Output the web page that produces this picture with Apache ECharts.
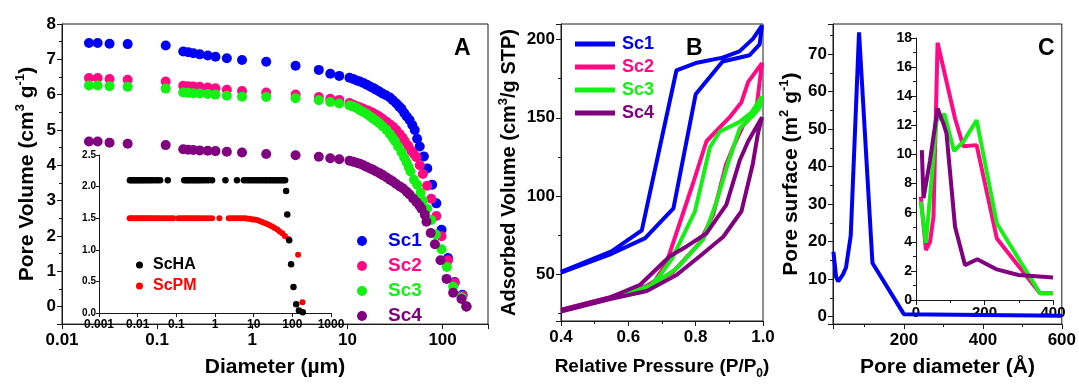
<!DOCTYPE html>
<html>
<head>
<meta charset="utf-8">
<script src="https://cdn.jsdelivr.net/npm/echarts@6/dist/echarts.min.js"></script>
<style>html,body{margin:0;padding:0;background:#fff}#c{width:1079px;height:385px}</style>
</head>
<body>
<div id="c"></div>
<script>
// ---------- Panel A: cumulative pore volume (diameter µm, cm3/g) ----------
const sc1Pore = [[0.0192,7.46],[0.0237,7.46],[0.0316,7.44],[0.049,7.43],[0.123,7.39],[0.188,7.22],[0.212,7.20],[0.24,7.17],[0.28,7.14],[0.34,7.11],[0.41,7.07],[0.54,7.03],[0.78,6.98],[1.4,6.93],[2.85,6.82],[5.0,6.70],[6.6,6.59],[8.2,6.53],[10.5,6.48],[11.5,6.44],[12.5,6.40],[13.5,6.37],[14.7,6.33],[16,6.28],[17.3,6.23],[18.6,6.19],[20,6.14],[21.6,6.09],[23.3,6.03],[25.4,5.98],[27.9,5.92],[30,5.84],[32.7,5.75],[35,5.66],[37,5.60],[39.5,5.48],[42,5.38],[45,5.28],[48,5.14],[51,5.00],[54,4.75],[57.5,4.53],[63.5,4.25],[69,3.91],[77.6,3.45],[86,2.92],[97.5,2.17],[114,1.37],[134,0.69],[162,0.33],[178,0.0]];
const sc2Pore = [[0.0192,6.47],[0.0237,6.47],[0.0316,6.44],[0.049,6.42],[0.123,6.37],[0.188,6.25],[0.212,6.24],[0.24,6.23],[0.28,6.22],[0.34,6.20],[0.41,6.18],[0.54,6.14],[0.78,6.10],[1.4,6.06],[2.85,6.00],[5.0,5.93],[6.6,5.88],[8.2,5.85],[10.5,5.76],[11.5,5.71],[12.5,5.67],[13.5,5.64],[14.7,5.60],[16,5.56],[17.3,5.52],[18.6,5.48],[20,5.43],[21.6,5.38],[23.5,5.31],[25.8,5.23],[28,5.15],[30.3,5.08],[32.8,4.99],[35.5,4.88],[38,4.78],[40,4.68],[43.5,4.55],[47,4.41],[50,4.32],[53,4.23],[57.5,4.00],[62,3.75],[68.7,3.42],[76,3.05],[86,2.56],[97.5,1.99],[114,1.31],[134,0.67],[162,0.30],[178,0.0]];
const sc3Pore = [[0.0192,6.26],[0.0237,6.26],[0.0316,6.24],[0.049,6.22],[0.123,6.17],[0.188,6.06],[0.212,6.05],[0.24,6.04],[0.28,6.03],[0.34,6.02],[0.41,6.00],[0.54,5.97],[0.78,5.94],[1.4,5.93],[2.85,5.90],[5.0,5.84],[6.6,5.79],[8.2,5.75],[10.5,5.69],[11.5,5.66],[12.5,5.62],[13.5,5.56],[14.7,5.51],[16,5.45],[17.3,5.38],[18.6,5.32],[20,5.26],[21.6,5.19],[23.5,5.10],[25.8,5.00],[28,4.88],[30,4.77],[31.7,4.68],[34,4.53],[37,4.37],[39.5,4.22],[41.7,4.09],[44,3.95],[46,3.82],[50,3.59],[54,3.45],[58.6,3.22],[62,3.00],[68.7,2.77],[76,2.45],[85,2.04],[97.5,1.62],[111,1.12],[129,0.56],[158,0.26],[178,0.0]];
const sc4Pore = [[0.0192,4.67],[0.0237,4.67],[0.0316,4.64],[0.049,4.61],[0.123,4.57],[0.188,4.45],[0.212,4.44],[0.24,4.43],[0.28,4.42],[0.34,4.41],[0.41,4.40],[0.54,4.38],[0.78,4.36],[1.4,4.32],[2.85,4.28],[5.0,4.24],[6.6,4.20],[8.2,4.17],[10.5,4.13],[11.5,4.10],[12.5,4.07],[13.5,4.04],[14.7,4.00],[15.8,3.96],[17.3,3.91],[18.6,3.87],[20,3.82],[21.9,3.77],[23.5,3.72],[25.8,3.65],[28,3.59],[30,3.54],[32.5,3.47],[35.5,3.40],[38.5,3.34],[42,3.25],[45,3.17],[49,3.06],[53,2.96],[57,2.86],[60,2.77],[65,2.60],[67.7,2.40],[75,2.08],[83,1.76],[95,1.31],[110,0.78],[129,0.39],[158,0.21],[178,0.0]];

// Inset of panel A
const schaPore = [[0.0063,2.1],[0.0069,2.1],[0.0076,2.1],[0.0084,2.1],[0.0093,2.1],[0.0103,2.1],[0.0114,2.1],[0.0126,2.1],[0.014,2.1],[0.0156,2.1],[0.0174,2.1],[0.0195,2.1],[0.022,2.1],[0.025,2.1],[0.029,2.1],[0.033,2.1],[0.038,2.1],[0.06,2.1],[0.16,2.1],[0.18,2.1],[0.2,2.1],[0.22,2.1],[0.25,2.1],[0.28,2.1],[0.31,2.1],[0.35,2.1],[0.39,2.1],[0.44,2.1],[0.5,2.1],[0.58,2.1],[0.68,2.1],[0.84,2.1],[1.86,2.1],[3.7,2.1],[5.6,2.1],[6.5,2.1],[7.5,2.1],[8.7,2.1],[10,2.1],[11.5,2.1],[13,2.1],[15,2.1],[17,2.1],[19.5,2.1],[22,2.1],[25,2.1],[28,2.1],[32,2.1],[36,2.1],[41,2.1],[46,2.1],[52,2.1],[58,2.1],[65,2.1],[69,1.93],[74,1.56],[83,1.15],[93,0.77],[107,0.41],[126,0.14],[148,0.04],[186,0.01]];
const scpmPore = [[0.0062,1.5],[0.0068,1.5],[0.0075,1.5],[0.0083,1.5],[0.0092,1.5],[0.0102,1.5],[0.0113,1.5],[0.0125,1.5],[0.0139,1.5],[0.0155,1.5],[0.0173,1.5],[0.0193,1.5],[0.0216,1.5],[0.024,1.5],[0.027,1.5],[0.031,1.5],[0.035,1.5],[0.04,1.5],[0.046,1.5],[0.053,1.5],[0.062,1.5],[0.072,1.5],[0.083,1.5],[0.113,1.5],[0.13,1.5],[0.15,1.5],[0.17,1.5],[0.19,1.5],[0.22,1.5],[0.25,1.5],[0.29,1.5],[0.33,1.5],[0.38,1.5],[0.44,1.5],[0.51,1.5],[0.6,1.5],[0.7,1.5],[0.84,1.5],[1.3,1.5],[2.26,1.5],[2.6,1.5],[3.0,1.5],[3.5,1.5],[4.0,1.5],[4.6,1.5],[5.3,1.5],[6.1,1.5],[7.0,1.49],[8.0,1.49],[9.2,1.48],[10.5,1.48],[12.3,1.47],[14.3,1.455],[16.5,1.44],[19.2,1.425],[22.3,1.41],[26,1.39],[30,1.37],[35,1.345],[41,1.32],[47,1.29],[55,1.26],[64,1.22],[79,1.17],[141,0.92],[183,0.17]];

// ---------- Panel B: N2 isotherms (P/P0, cm3/g STP), adsorption then desorption ----------
const sc1Iso = [[0.4,51],[0.55,63],[0.65,73],[0.734,92],[0.80,165],[0.88,186],[0.96,190],[0.99,197],[0.997,209],[0.97,200.5],[0.93,192.5],[0.88,188.5],[0.80,185],[0.743,180.4],[0.64,78],[0.55,64.5],[0.4,51.5]];
const sc2Iso = [[0.4,27],[0.546,35],[0.655,42.2],[0.733,51.4],[0.812,70],[0.852,88],[0.89,120],[0.911,131],[0.941,145],[0.98,155],[0.997,185],[0.956,173],[0.936,160],[0.901,150.4],[0.832,135],[0.793,108.6],[0.714,57.6],[0.68,46],[0.655,42.5],[0.546,35.3],[0.4,27.2]];
const sc3Iso = [[0.4,26.5],[0.546,34.5],[0.664,42.2],[0.743,53.5],[0.822,72],[0.862,96.4],[0.896,120.8],[0.931,143.3],[0.97,151.4],[0.99,156.5],[0.997,163.7],[0.966,153.5],[0.931,147.4],[0.872,141.2],[0.842,131],[0.818,108.6],[0.798,90.2],[0.729,59.6],[0.69,48],[0.664,42.4],[0.546,34.7],[0.4,26.7]];
const sc4Iso = [[0.4,26],[0.546,34],[0.655,39.2],[0.743,49.4],[0.813,61.6],[0.882,73.9],[0.936,90.2],[0.97,120.8],[0.985,140],[0.997,150.4],[0.956,135],[0.931,122.8],[0.891,94.3],[0.832,76],[0.773,67.7],[0.724,61.6],[0.635,43.2],[0.546,35.1],[0.4,27]];

// ---------- Panel C: pore surface distribution (Å, m2/g) ----------
const sc1Surf = [[21,17.3],[28,10.5],[33,9.4],[45,11.2],[53,13.1],[65,21.6],[86,75.8],[120,14.3],[200,0.6],[600,0.2]];
const sc2Surf = [[14,7.1],[18,7.0],[29,3.43],[41,4.0],[51,5.72],[63,17.67],[114,12.47],[138,10.57],[177,10.64],[236,4.23],[362,0.46],[400,0.46]];
const sc3Surf = [[14,6.75],[29,3.93],[46,8.46],[60,12.35],[83,12.77],[111,10.23],[138,10.87],[177,12.35],[236,5.26],[362,0.46],[400,0.46]];
const sc4Surf = [[17,10.3],[22,7.0],[41,9.6],[63,13.15],[80,12.13],[89,11.44],[114,5.03],[143,2.4],[179,2.8],[236,2.1],[299,1.72],[400,1.55]];

const names = ['Sc1','Sc2','Sc3','Sc4'];
const colors = ['#0000F5','#FF0A84','#14F014','#800080'];
const panelLetters = ['A','B','C'];

const FF = '"Liberation Sans", Arial, Helvetica, sans-serif';
const AX = '#1a1a1a';

function isPow10(v){ const l = Math.log10(v); return Math.abs(l - Math.round(l)) < 1e-6; }
function logFmt(v){ return isPow10(v) ? String(+v.toPrecision(6)) : ''; }

function valAxis(o){
  const base = {
    type:'value', gridIndex:o.g, min:o.min, max:o.max,
    splitLine:{show:false},
    axisLine:{show:true, onZero:false, lineStyle:{color:AX, width:1}},
    axisTick:{show:true, inside:false, length:5, lineStyle:{color:AX}},
    axisLabel:{fontFamily:FF, fontWeight:'bold', fontSize:o.fs||17, color:'#000', margin:o.margin||6, formatter:o.fmt},
  };
  if (o.interval) base.interval = o.interval;
  if (o.split) base.splitNumber = o.split;
  if (o.minor) base.minorTick = {show:true, splitNumber:o.minor, length:3, lineStyle:{color:AX}};
  return Object.assign(base, o.extra||{});
}

const supStyle = {fontFamily:FF, fontWeight:'bold', fontSize:13, color:'#000', verticalAlign:'top', lineHeight:26};
const subStyle = {fontFamily:FF, fontWeight:'bold', fontSize:12, color:'#000', verticalAlign:'bottom', lineHeight:26, padding:[0,0,0,0]};
function nameStyle(fs){ return {fontFamily:FF, fontWeight:'bold', fontSize:fs, color:'#000', lineHeight:26, rich:{sup:supStyle, sub:subStyle, t:{fontFamily:FF, fontWeight:'bold', fontSize:fs, color:'#000', lineHeight:26}}}; }

const grids = [
  {left:62, top:24, width:426, height:310, show:true, borderColor:AX, borderWidth:1},   // A
  {left:99, top:155, width:232, height:158, show:false},                               // A inset
  {left:561, top:24, width:202, height:311, show:true, borderColor:AX, borderWidth:1}, // B
  {left:833, top:24, width:233, height:311, show:true, borderColor:AX, borderWidth:1}, // C
  {left:916, top:38, width:137, height:262, show:false}                                // C inset
];

const xAxes = [
  {type:'log', logBase:10, gridIndex:0, min:0.01, max:300, splitLine:{show:false},
   axisLine:{show:true, onZero:false, lineStyle:{color:AX}}, axisTick:{length:5, lineStyle:{color:AX}},
   axisLabel:{fontFamily:FF, fontWeight:'bold', fontSize:17, color:'#000', margin:8, formatter:logFmt},
   name:'{t|Diameter (µm)}', nameLocation:'middle', nameGap:29, nameTextStyle:nameStyle(21)},
  {type:'log', logBase:10, gridIndex:1, min:0.001, max:1000, splitLine:{show:false},
   axisLine:{show:true, onZero:false, lineStyle:{color:AX}}, axisTick:{length:4, lineStyle:{color:AX}},
   axisLabel:{fontFamily:FF, fontWeight:'bold', fontSize:12, color:'#000', margin:6, formatter:logFmt}},
  valAxis({g:2, min:0.4, max:1.0, interval:0.2, minor:2, fmt:v=>v.toFixed(1), margin:8,
   extra:{name:'{t|Relative Pressure (P/P}{sub|0}{t|)}', nameLocation:'middle', nameGap:33, nameTextStyle:nameStyle(19)}}),
  valAxis({g:3, min:20, max:600, split:3, minor:2, fmt:v=>(v%200===0 && v>0)?String(v):'', margin:8,
   extra:{name:'{t|Pore diameter (Å)}', nameLocation:'middle', nameGap:26, nameTextStyle:nameStyle(21)}}),
  valAxis({g:4, min:0, max:400, interval:200, minor:2, fs:15, fmt:v=>String(v), margin:5})
];

const yAxes = [
  valAxis({g:0, min:-0.5, max:8, split:8, minor:2, fmt:v=>Number.isInteger(v)?String(v):'', margin:6,
   extra:{name:'{t|Pore Volume (cm}{sup|3}{t| g}{sup|-1}{t|)}', nameLocation:'middle', nameRotate:90, nameGap:22, nameTextStyle:nameStyle(21)}}),
  valAxis({g:1, min:0, max:2.5, interval:0.5, fs:10, fmt:v=>v.toFixed(1), margin:3, extra:{axisTick:{length:3, lineStyle:{color:AX}}}}),
  valAxis({g:2, min:20, max:210, split:4, minor:2, fmt:v=>(v%50===0)?String(v):'', margin:6,
   extra:{name:'{t|Adsorbed Volume (cm}{sup|3}{t|/g STP)}', nameLocation:'middle', nameRotate:90, nameGap:36, nameTextStyle:nameStyle(20)}}),
  valAxis({g:3, min:-2, max:78, split:8, minor:2, fmt:v=>(v%10===0)?String(v):'', margin:6,
   extra:{name:'{t|Pore surface (m}{sup|2}{t| g}{sup|-1}{t|)}', nameLocation:'middle', nameRotate:90, nameGap:28, nameTextStyle:nameStyle(21)}}),
  valAxis({g:4, min:0, max:18, interval:2, minor:2, fs:14, fmt:v=>String(v), margin:4})
];

const series = [];
[sc1Pore, sc2Pore, sc3Pore, sc4Pore].forEach((d,i)=>{
  series.push({type:'scatter', name:names[i], xAxisIndex:0, yAxisIndex:0, data:d, symbolSize:10, itemStyle:{color:colors[i], opacity:1}});
});
series.push({type:'scatter', name:'ScPM', xAxisIndex:1, yAxisIndex:1, data:scpmPore, symbolSize:6, itemStyle:{color:'#FF0000', opacity:1}});
series.push({type:'scatter', name:'ScHA', xAxisIndex:1, yAxisIndex:1, data:schaPore, symbolSize:6.5, itemStyle:{color:'#000000', opacity:1}});
[sc1Iso, sc2Iso, sc3Iso, sc4Iso].forEach((d,i)=>{
  series.push({type:'line', name:names[i], xAxisIndex:2, yAxisIndex:2, data:d, showSymbol:false, symbol:'none', lineStyle:{color:colors[i], width:4}, itemStyle:{color:colors[i]}});
});
series.push({type:'line', name:'Sc1', xAxisIndex:3, yAxisIndex:3, data:sc1Surf, showSymbol:false, symbol:'none', lineStyle:{color:colors[0], width:4}, itemStyle:{color:colors[0]}});
[sc2Surf, sc3Surf, sc4Surf].forEach((d,i)=>{
  series.push({type:'line', name:names[i+1], xAxisIndex:4, yAxisIndex:4, data:d, showSymbol:false, symbol:'none', lineStyle:{color:colors[i+1], width:4}, itemStyle:{color:colors[i+1]}});
});

const legends = [
  {left:352, top:226, orient:'vertical', itemGap:5, itemWidth:10, itemHeight:10, icon:'circle', selectedMode:false,
   textStyle:{fontFamily:FF, fontWeight:'bold', fontSize:19, lineHeight:20, padding:[0,0,0,16]},
   data:names.map((n,i)=>({name:n, icon:'circle', itemStyle:{color:colors[i]}, textStyle:{color:colors[i]}}))},
  {left:570, top:30, orient:'vertical', itemGap:5, itemWidth:40, itemHeight:5, icon:'rect', selectedMode:false,
   textStyle:{fontFamily:FF, fontWeight:'bold', fontSize:18, lineHeight:18, padding:[0,0,0,2]},
   data:names.map((n,i)=>({name:n, icon:'rect', itemStyle:{color:colors[i]}, textStyle:{color:colors[i]}}))},
  {left:131, top:252, orient:'vertical', itemGap:5, itemWidth:7, itemHeight:7, icon:'circle', selectedMode:false,
   textStyle:{fontFamily:FF, fontWeight:'bold', fontSize:16, lineHeight:16, padding:[0,0,0,5]},
   data:[{name:'ScHA', itemStyle:{color:'#000'}, textStyle:{color:'#000'}},{name:'ScPM', itemStyle:{color:'#FF0000'}, textStyle:{color:'#FF0000'}}]}
];

const letterPos = [[454,37],[686,37],[1038,37]];
const graphic = panelLetters.map((t,i)=>({type:'text', left:letterPos[i][0], top:letterPos[i][1], z:100,
  style:{text:t, fill:'#000', font:'bold 23px ' + FF}}));

const chart = echarts.init(document.getElementById('c'), null, {renderer:'canvas'});
chart.setOption({animation:false, backgroundColor:'#fff', grid:grids, xAxis:xAxes, yAxis:yAxes, series:series, legend:legends, graphic:graphic});
</script>
</body>
</html>
